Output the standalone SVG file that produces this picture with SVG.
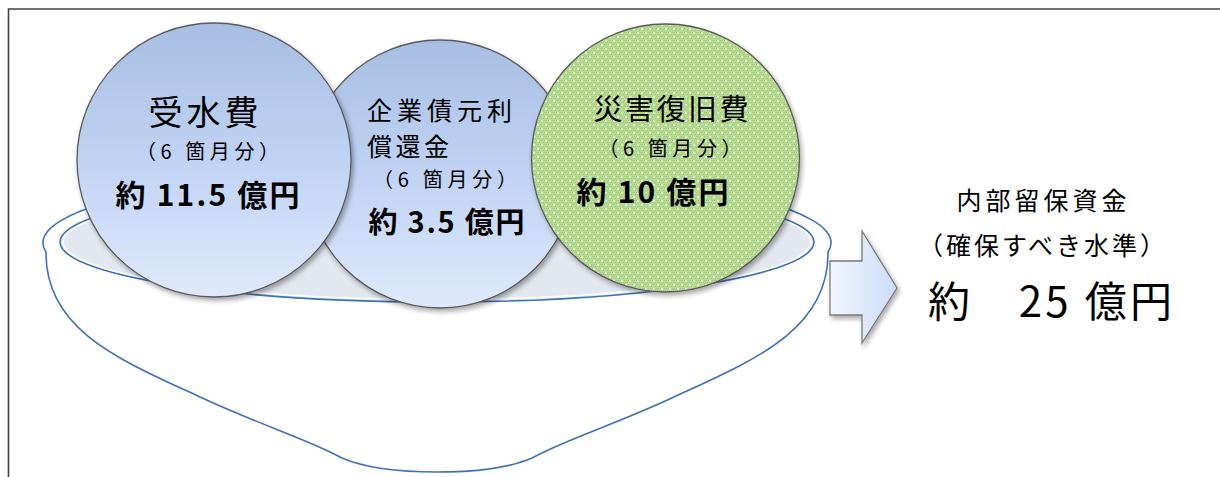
<svg xmlns="http://www.w3.org/2000/svg" width="1220" height="477" viewBox="0 0 1220 477">
<style>
.t{font-family:"Noto Sans CJK JP","Noto Sans",sans-serif;fill:#000}
.b{font-weight:bold}
.blue{fill:url(#gBlue);stroke:#5a5a5a;stroke-width:1.3}
.bowl{stroke:#3f70b8;stroke-width:1.6}
</style>
<defs>
<linearGradient id="gBlue" x1="0" y1="0" x2="0" y2="1">
<stop offset="0" stop-color="#a7bee2"/>
<stop offset="0.5" stop-color="#c0d3f4"/>
<stop offset="1" stop-color="#dfe9fc"/>
</linearGradient>
<linearGradient id="gArrow" x1="0" y1="0" x2="1" y2="0">
<stop offset="0" stop-color="#f2f6fe"/>
<stop offset="1" stop-color="#ccdcf8"/>
</linearGradient>
<pattern id="pGreen" width="8" height="8" patternUnits="userSpaceOnUse">
<rect width="8" height="8" fill="#b6da92"/>
<rect x="0" y="0" width="1" height="1" fill="#a0ca76"/>
<rect x="2" y="0" width="1" height="1" fill="#a0ca76"/>
<rect x="4" y="0" width="1" height="1" fill="#a0ca76"/>
<rect x="6" y="0" width="1" height="1" fill="#a0ca76"/>
<rect x="1" y="2" width="1" height="1" fill="#a0ca76"/>
<rect x="3" y="2" width="1" height="1" fill="#a0ca76"/>
<rect x="5" y="2" width="1" height="1" fill="#a0ca76"/>
<rect x="7" y="2" width="1" height="1" fill="#a0ca76"/>
<rect x="0" y="4" width="1" height="1" fill="#a0ca76"/>
<rect x="4" y="4" width="1" height="1" fill="#a0ca76"/>
<rect x="3" y="6" width="1" height="1" fill="#a0ca76"/>
<rect x="7" y="6" width="1" height="1" fill="#a0ca76"/>
<circle cx="2" cy="5" r="0.9" fill="#f4faee"/>
<circle cx="6" cy="1" r="0.9" fill="#f4faee"/>
</pattern>
<filter id="sh" x="-20%" y="-20%" width="140%" height="140%">
<feDropShadow dx="2" dy="3" stdDeviation="2.5" flood-color="#000" flood-opacity="0.35"/>
</filter>
</defs>

<rect width="1220" height="477" fill="#ffffff"/>
<path d="M8.5,477 V9 H1220" fill="none" stroke="#404040" stroke-width="1.6"/>

<g id="bowl">
<path class="bowl" fill="#ffffff" d="M46,252 L44,248 A394,74 0 1 1 830,248 L828,252 C829,330 754,360 674,397 C614,425 564,440 532,458 C509,468 474,472 437,472 C400,472 365,468 342,458 C310,440 260,425 200,397 C120,360 45,330 46,252 Z"/>
<ellipse class="bowl" cx="437" cy="242" rx="377" ry="60" fill="#e3e8f0"/>
<ellipse cx="437" cy="242" rx="374" ry="57.5" fill="none" stroke="#ffffff" stroke-width="1.6" stroke-opacity="0.85"/>
</g>

<g id="node-kigyosai">
<circle class="blue" cx="440" cy="174" r="134" filter="url(#sh)"/>
<text class="t" x="367" y="119.5" font-size="25" textLength="145" lengthAdjust="spacing">企業債元利</text>
<text class="t" x="367" y="156" font-size="25" textLength="82" lengthAdjust="spacing">償還金</text>
<text class="t" x="445" y="186.5" font-size="20" text-anchor="middle" textLength="144" lengthAdjust="spacing">（6 箇月分）</text>
<text class="t b" x="446.5" y="233" font-size="29" text-anchor="middle" textLength="156" lengthAdjust="spacing">約 3.5 億円</text>
</g>

<g id="node-jusuihi">
<circle class="blue" cx="214" cy="160" r="137" filter="url(#sh)"/>
<text class="t" x="203.5" y="125" font-size="34" text-anchor="middle" textLength="110" lengthAdjust="spacing">受水費</text>
<text class="t" x="207.5" y="158.5" font-size="20" text-anchor="middle" textLength="143" lengthAdjust="spacing">（6 箇月分）</text>
<text class="t b" x="207.5" y="206" font-size="30" text-anchor="middle" textLength="184" lengthAdjust="spacing">約 11.5 億円</text>
</g>

<g id="node-saigai">
<circle cx="665.5" cy="158" r="134" fill="url(#pGreen)" stroke="#5a5a5a" stroke-width="1.3" filter="url(#sh)"/>
<text class="t" x="671" y="120" font-size="29" text-anchor="middle" textLength="155" lengthAdjust="spacing">災害復旧費</text>
<text class="t" x="670" y="155.5" font-size="20" text-anchor="middle" textLength="143" lengthAdjust="spacing">（6 箇月分）</text>
<text class="t b" x="652.5" y="203" font-size="30" text-anchor="middle" textLength="152" lengthAdjust="spacing">約 10 億円</text>
</g>

<g id="connectors">
<path d="M830,261 H862 V231 L897,288 L862,343 V315 H830 Z" fill="url(#gArrow)" stroke="#7a7a7a" stroke-width="1.3" filter="url(#sh)"/>
</g>

<g id="node-result">
<text class="t" x="1041.5" y="210" font-size="25" text-anchor="middle" textLength="170" lengthAdjust="spacing">内部留保資金</text>
<text class="t" x="1041.5" y="255" font-size="25" text-anchor="middle" textLength="247" lengthAdjust="spacing">（確保すべき水準）</text>
<text class="t" x="1050" y="317" font-size="42" text-anchor="middle" textLength="244" lengthAdjust="spacing">約　25 億円</text>
</g>
</svg>
